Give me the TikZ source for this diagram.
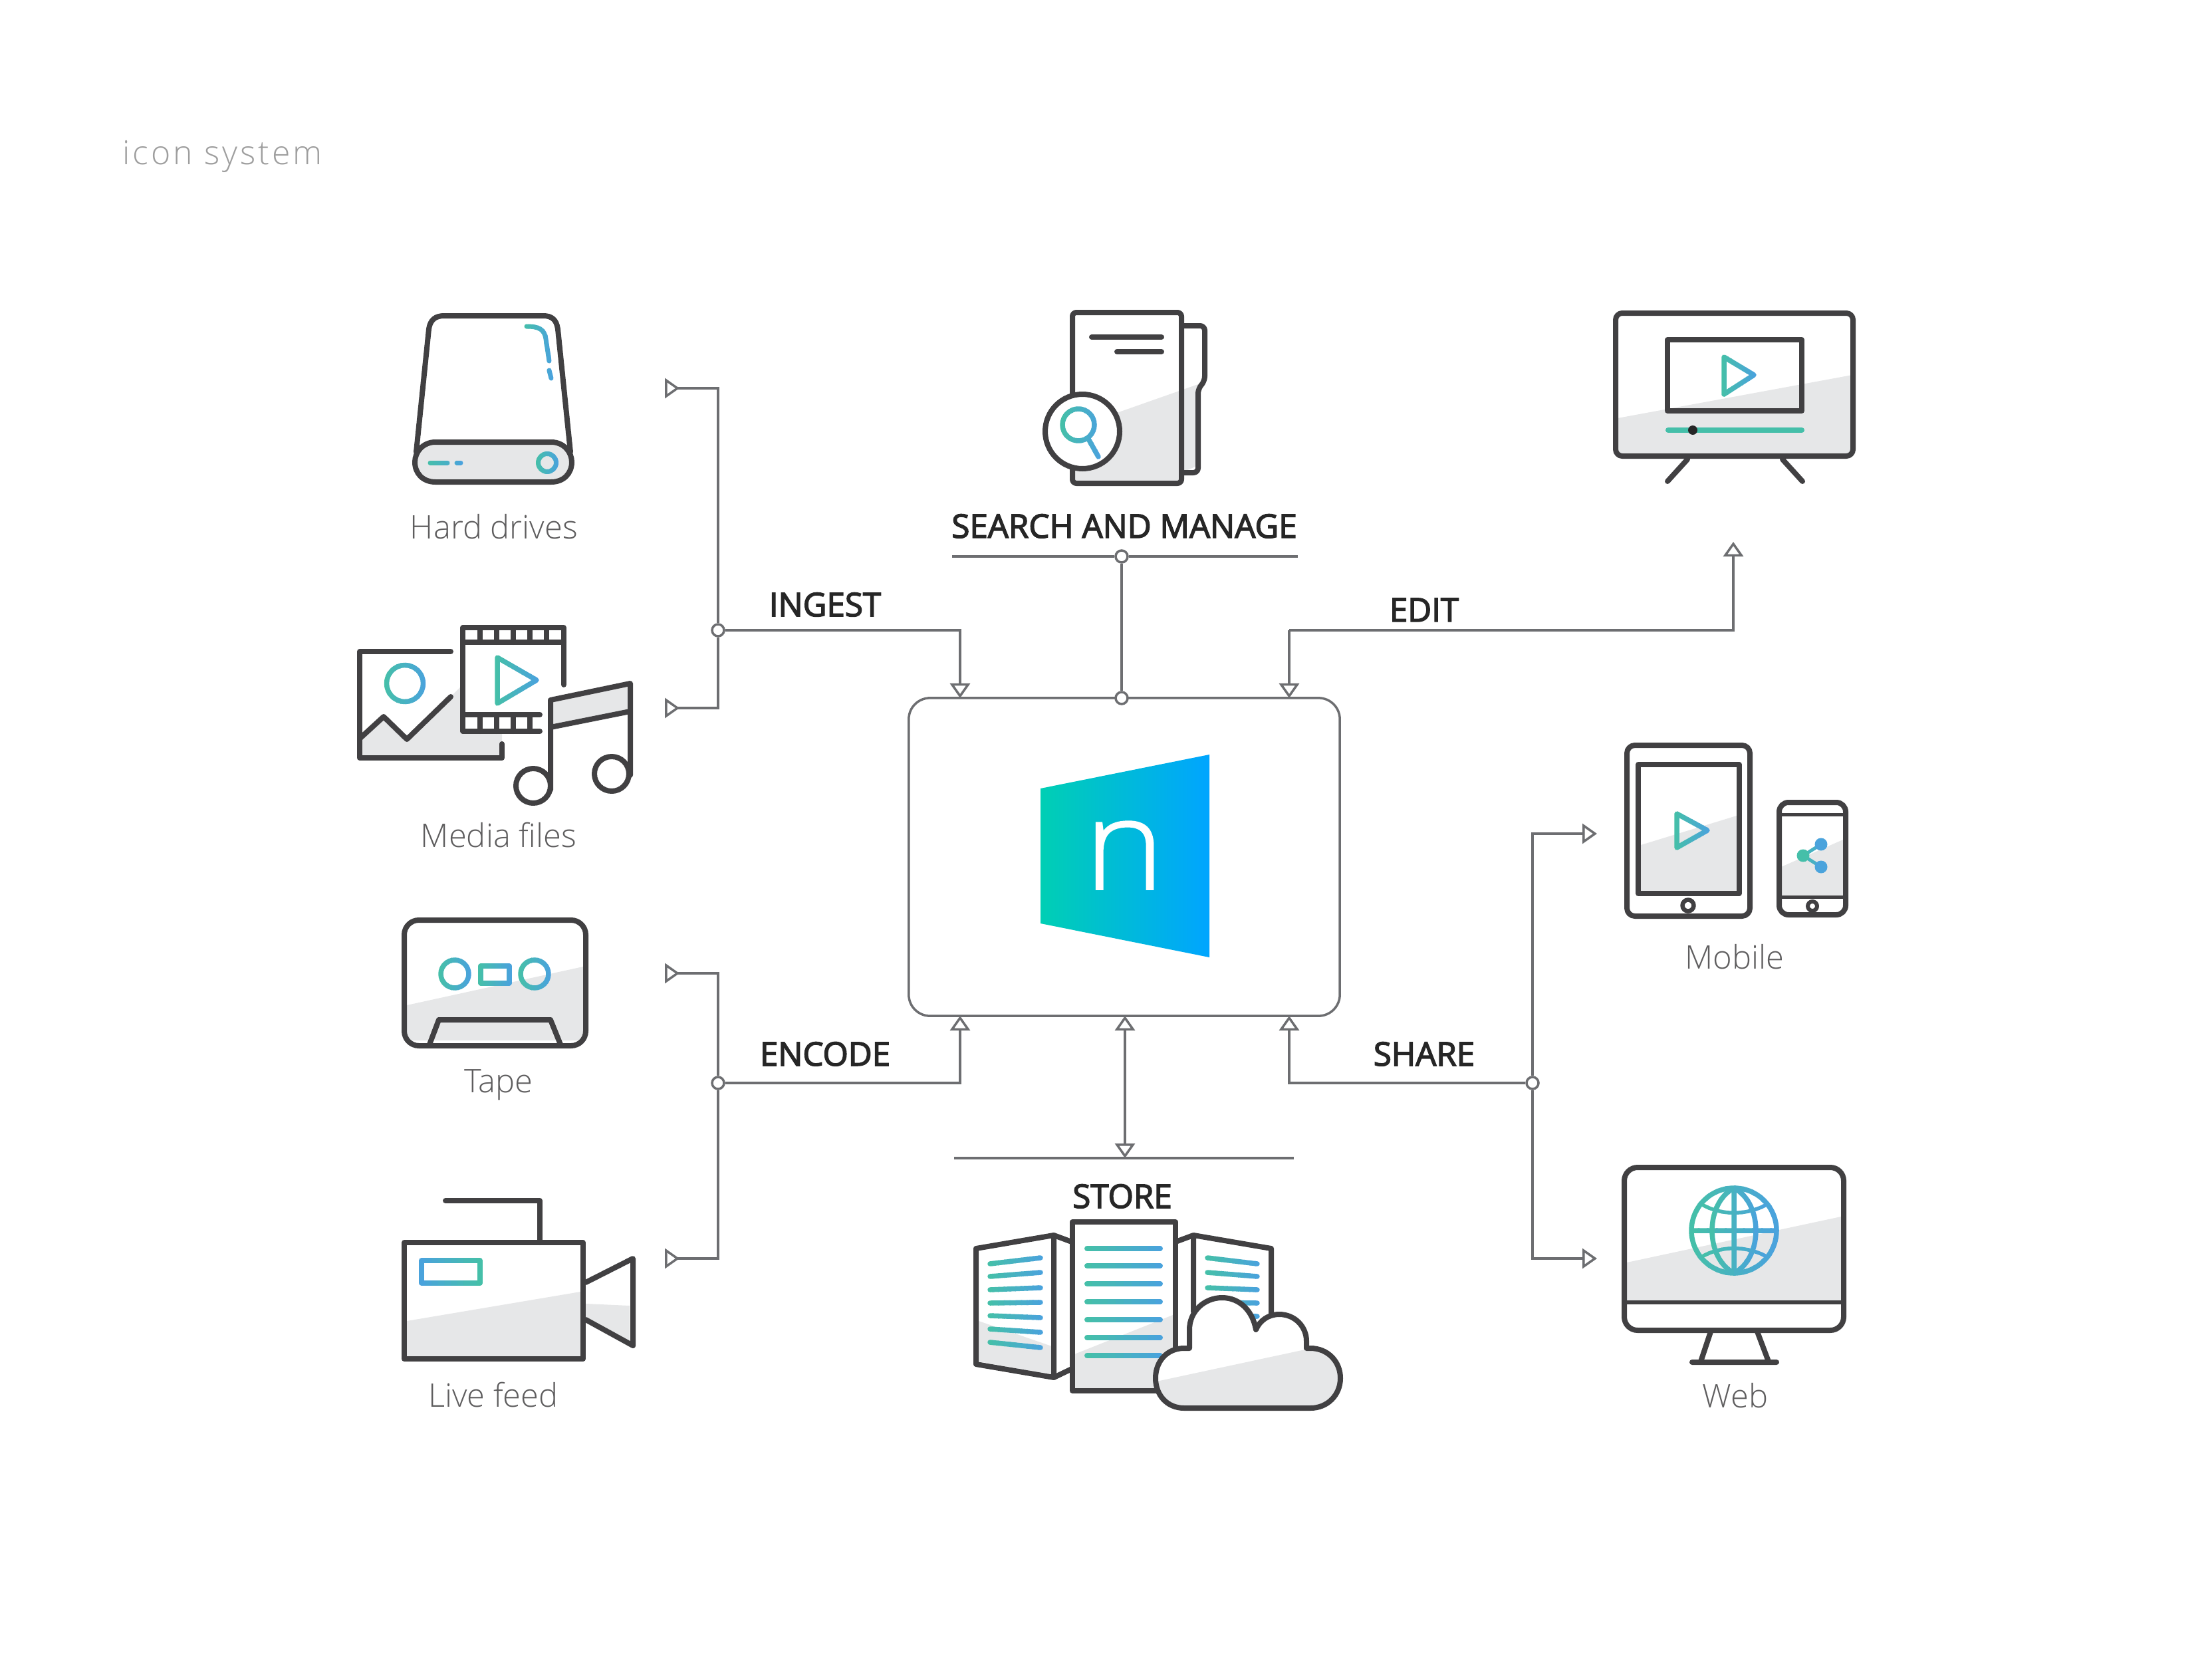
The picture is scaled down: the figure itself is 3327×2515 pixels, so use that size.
\documentclass[tikz,border=0pt]{standalone}
\usepackage{fontspec}
\setmainfont{Open Sans}
\newfontfamily\lightface{Open Sans Light}
\newfontfamily\heavyface[FakeBold=3]{Open Sans}
\newfontfamily\logoface[FakeBold=1,FakeStretch=1.08]{Open Sans Light}
\usepackage{tikz}
\usetikzlibrary{arrows.meta}

\definecolor{iconink}{HTML}{414042}
\definecolor{icongray}{HTML}{E6E7E8}
\definecolor{iconteal}{HTML}{45BFA9}
\definecolor{iconblue}{HTML}{4AA3DC}
\definecolor{wireink}{HTML}{6D6E71}
\definecolor{logoteal}{HTML}{00CFB4}
\definecolor{logoblue}{HTML}{00A5FF}

\newcommand{\gradstroke}[4][7.5]{%
    \foreach \k in {0,...,9}{%
        \pgfmathsetmacro\xa{#2+(#3-#2)*\k/10}%
        \pgfmathsetmacro\xb{#2+(#3-#2)*(\k+1.2)/10}%
        \pgfmathtruncatemacro\mixp{\k*100/9}%
        \begin{scope}
            \clip (\xa,0) rectangle (\xb,2515);
            \draw[line width=#1*0.01cm,line cap=round,line join=round,draw=iconblue!\mixp!iconteal] #4;
        \end{scope}
    }%
}

\begin{document}
\begin{tikzpicture}[x=0.01cm,y=-0.01cm,>={Triangle[fill=white,length=0.22cm,width=0.3cm]},
        iconline/.style={draw=iconink,line width=0.08cm,line join=round,line cap=round},
        flow/.style={draw=wireink,line width=0.035cm},
        intake/.style={flow,-{Triangle[reversed,fill=white,length=0.22cm,width=0.3cm]}},
        junction/.style={circle,draw=wireink,line width=0.035cm,fill=white,inner sep=0pt,minimum size=0.18cm},
        caption/.style={anchor=base,text=iconink!85,font=\lightface\fontsize{13.9}{16}\selectfont},
        stage/.style={anchor=base,text=black!85,font=\heavyface\fontsize{14}{16}\selectfont}]
        \useasboundingbox (0,0) rectangle (3327,2515);

        \node[anchor=base west,text=black!38,font=\lightface\fontsize{14.2}{16}\selectfont\addfontfeature{LetterSpace=8}] (title) at (172,248) {icon system};

        % hard drive
        \draw[iconline] (626,680) -- (645,495) .. controls (647,481) and (655,475) .. (668,475) -- (817,475) .. controls (830,475) and (837,481) .. (839,495) -- (858,680);
        \draw[iconline,fill=icongray] (655,665) -- (829,665) .. controls (848,665) and (860,680) .. (860,695) .. controls (860,712) and (848,725) .. (829,725) -- (655,725) .. controls (636,725) and (624,712) .. (624,695) .. controls (624,680) and (636,665) .. (655,665) -- cycle;
        \gradstroke[7]{786}{832}{(792,491) .. controls (810,491) and (819,495) .. (821,510) -- (826,543) (826,557) -- (829,569)}
        \gradstroke[7]{640}{698}{(647,696) -- (673,696) (687,696) -- (693,696)}
        \gradstroke[7]{805}{841}{(823,696) circle (13.5)}
        \node[caption] (hard) at (743,810) {Hard drives};

        % media files
        \fill[icongray] (541,1115) -- (577,1078) -- (612,1112) -- (693,1033) -- (693,1103) -- (755,1103) -- (755,1140) -- (541,1140) -- cycle;
        \draw[iconline] (678,980) -- (541,980) -- (541,1140) -- (755,1140) -- (755,1119);
        \draw[iconline] (541,1111) -- (577,1078) -- (612,1112) -- (678,1048);
        \gradstroke{575}{643}{(609,1028) circle (27.5)}
        \draw[iconline] (848,1030) -- (848,944) -- (696,944) -- (696,1100) -- (812,1100) (696,966) -- (848,966) (696,1075) -- (812,1075);
        \draw[iconline] (722,944) -- (722,966) (747,944) -- (747,966) (772,944) -- (772,966) (797,944) -- (797,966) (822,944) -- (822,966);
        \draw[iconline] (722,1075) -- (722,1100) (747,1075) -- (747,1100) (772,1075) -- (772,1100) (797,1075) -- (797,1100);
        \gradstroke{743}{812}{(748,989) -- (807,1023) -- (748,1058) -- cycle}
        \fill[icongray] (828,1053) -- (948,1028) -- (948,1070) -- (828,1094) -- cycle;
        \draw[iconline] (828,1188) -- (828,1053) -- (948,1028) -- (948,1166) (828,1094) -- (948,1070);
        \draw[iconline] (802,1182) circle (26);
        \draw[iconline] (920,1164) circle (26);
        \node[caption] (media) at (750,1274) {Media files};

        % tape
        \fill[icongray] (612,1512) -- (877,1454) -- (877,1565) -- (612,1565) -- cycle;
        \draw[iconline,rounded corners=0.22cm] (608,1384) rectangle (881,1573);
        \gradstroke{659}{709}{(684,1465) circle (21)}
        \gradstroke{779}{829}{(804,1465) circle (21)}
        \gradstroke{719}{770}{(723,1453) rectangle (766,1479)}
        \draw[iconline] (646,1571) -- (660,1534) -- (828,1534) -- (843,1571);
        \node[caption] (tape) at (750,1643) {Tape};

        % camera
        \fill[icongray] (612,1987) -- (873,1943) -- (873,2040) -- (612,2040) -- cycle;
        \fill[icongray] (881,1961) -- (947,1964) -- (947,2022) -- (881,1985) -- cycle;
        \draw[iconline] (608,1869) rectangle (877,2044);
        \draw[iconline] (670,1806) -- (812,1806) -- (812,1869);
        \draw[iconline] (881,1929) -- (952,1893) -- (952,2024) -- (881,1985);
        \gradstroke{726}{630}{(634,1896) rectangle (722,1930)}
        \node[caption] (live) at (742,2116) {Live feed};

        % search and manage
        \fill[icongray] (1640,635) -- (1802,578) -- (1802,700) -- (1777,711) -- (1777,727) -- (1613,727) -- (1613,680) -- cycle;
        \draw[iconline,rounded corners=0.07cm] (1777,490) -- (1812,490) -- (1812,573) -- (1802,585) -- (1802,711) -- (1777,711);
        \draw[iconline,rounded corners=0.06cm] (1613,470) rectangle (1777,727);
        \draw[iconline] (1642,507) -- (1747,507) (1680,529) -- (1747,529);
        \draw[iconline,fill=white] (1628,649) circle (56);
        \gradstroke{1594}{1656}{(1622,639) circle (24) (1638,662) -- (1652,687)}
        \node[stage] (search) at (1691,809) {SEARCH AND MANAGE};

        % edit
        \fill[icongray] (2433,629) -- (2786,564) -- (2786,682) -- (2433,682) -- cycle;
        \draw[iconline,rounded corners=0.1cm] (2430,471) rectangle (2787,686);
        \draw[iconline] (2508,511) rectangle (2710,618);
        \gradstroke{2588}{2642}{(2593,537) -- (2638,564) -- (2593,593) -- cycle}
        \draw[iconline,draw=iconteal] (2509,647) -- (2710,647);
        \fill[black!85] (2546,647) circle (7);
        \draw[iconline] (2538,691) -- (2508,724) (2681,691) -- (2711,724);

        % mobile
        \draw[iconline,rounded corners=0.12cm] (2447,1121) rectangle (2632,1378);
        \fill[icongray] (2468,1271) -- (2612,1227) -- (2612,1340) -- (2468,1340) -- cycle;
        \draw[iconline] (2464,1150) rectangle (2616,1344);
        \gradstroke{2517}{2573}{(2522,1224) -- (2568,1249) -- (2522,1275) -- cycle}
        \draw[iconline,line width=0.065cm] (2539,1362) circle (8.5);
        \fill[icongray] (2679,1304) -- (2772,1263) -- (2772,1349) -- (2679,1349) -- cycle;
        \draw[iconline,rounded corners=0.14cm] (2676,1207) rectangle (2776,1376);
        \draw[iconline,line width=0.05cm] (2676,1225) -- (2776,1225) (2676,1349) -- (2776,1349);
        \gradstroke[5]{2703}{2748}{(2739,1270) -- (2712,1287) -- (2739,1304)}
        \fill[iconteal] (2712,1287) circle (9.5);
        \fill[iconblue] (2739,1270) circle (9.5);
        \fill[iconblue] (2739,1304) circle (9.5);
        \draw[iconline,line width=0.06cm] (2726,1363) circle (7);
        \node[caption] (mobile) at (2609,1457) {Mobile};

        % web
        \fill[icongray] (2447,1899) -- (2769,1830) -- (2769,1959) -- (2447,1959) -- cycle;
        \draw[iconline,rounded corners=0.2cm] (2443,1756) rectangle (2773,2001);
        \draw[iconline,line width=0.06cm] (2443,1959) -- (2773,1959);
        \draw[iconline] (2573,2003) -- (2558,2048) (2643,2003) -- (2660,2048) (2545,2049) -- (2672,2049);
        \gradstroke{2540}{2676}{(2608,1851) circle (64) (2544,1851) -- (2672,1851) (2608,1787) -- (2608,1915)}
        \gradstroke{2570}{2646}{(2608,1787) .. controls (2564,1810) and (2564,1892) .. (2608,1915) .. controls (2652,1892) and (2652,1810) .. (2608,1787) -- cycle}
        \gradstroke[5.5]{2558}{2660}{(2562,1813) .. controls (2590,1828) and (2626,1828) .. (2655,1813) (2562,1889) .. controls (2590,1874) and (2626,1874) .. (2655,1889)}
        \node[caption] (web) at (2610,2117) {Web};

        % store
        \fill[icongray] (1472,1987) -- (1582,2025) -- (1582,2068) -- (1472,2048) -- cycle;
        \draw[iconline] (1468,1878) -- (1585,1858) -- (1585,2072) -- (1468,2052) -- cycle;
        \draw[iconline] (1585,1858) -- (1612,1868) (1585,2072) -- (1612,2059);
        \draw[iconline] (1795,1973) -- (1795,1858) -- (1912,1878) -- (1912,1985) (1795,1858) -- (1768,1868);
        \gradstroke{1484}{1570}{(1489,1901) -- (1565,1892) (1489,1920) -- (1565,1914) (1489,1940) -- (1565,1937) (1489,1960) -- (1565,1959) (1489,1979) -- (1565,1982) (1489,1999) -- (1565,2004) (1489,2019) -- (1565,2027)}
        \gradstroke{1811}{1896}{(1816,1892) -- (1891,1901) (1816,1914) -- (1891,1920) (1816,1937) -- (1891,1940) (1816,1959) -- (1891,1960) (1816,1979) -- (1891,1980)}
        \fill[icongray] (1616,2037) -- (1764,1978) -- (1764,2088) -- (1616,2088) -- cycle;
        \draw[iconline] (1613,1838) rectangle (1768,2092);
        \gradstroke[8]{1630}{1750}{(1635,1878) -- (1745,1878) (1635,1904) -- (1745,1904) (1635,1931) -- (1745,1931) (1635,1958) -- (1745,1958) (1635,1985) -- (1745,1985) (1635,2012) -- (1745,2012) (1635,2039) -- (1745,2039)}
        \draw[iconline,fill=white,path picture={\fill[icongray] (1730,2080) -- (1963,2030) -- (2030,2030) -- (2030,2130) -- (1730,2130) -- cycle;}]
            (1781,2118) .. controls (1755,2118) and (1738,2098) .. (1738,2073) .. controls (1738,2048) and (1755,2028) .. (1781,2028) -- (1789,2028) -- (1789,2000) .. controls (1789,1972) and (1812,1952) .. (1838,1952) .. controls (1865,1952) and (1884,1972) .. (1889,2000) .. controls (1895,1986) and (1908,1977) .. (1924,1977) .. controls (1948,1977) and (1965,1996) .. (1965,2017) -- (1965,2028) -- (1971,2028) .. controls (1997,2028) and (2016,2048) .. (2016,2073) .. controls (2016,2098) and (1997,2118) .. (1971,2118) -- cycle;
        \node[stage] (store) at (1688,1817) {STORE};

        % core box
        \node[draw=wireink,line width=0.035cm,fill=white,rounded corners=0.32cm,minimum width=6.48cm,minimum height=4.78cm,inner sep=0pt] (core) at (1691,1289) {};
        \shade[left color=logoteal,right color=logoblue] (1565,1186) -- (1819,1135) -- (1819,1440) -- (1565,1389) -- cycle;
        \node[anchor=base,text=white,font=\logoface\fontsize{54}{54}\selectfont] (logo) at (1691,1338) {n};

        % connectors
        \coordinate (hardend) at (1000,584);
        \coordinate (mediaend) at (1000,1065);
        \coordinate (tapeend) at (1000,1464);
        \coordinate (liveend) at (1000,1893);
        \coordinate (ingesttop) at (1444,1050);
        \coordinate (edittop) at (1939,1050);
        \coordinate (editend) at (2607,815);
        \coordinate (encodebot) at (1444,1528);
        \coordinate (sharebot) at (1939,1528);
        \coordinate (storebot) at (1692,1528);
        \coordinate (storerule) at (1692,1742);
        \coordinate (mobileend) at (2402,1254);
        \coordinate (webend) at (2402,1893);
        \coordinate (searchl) at (1432,837);
        \coordinate (searchr) at (1952,837);
        \coordinate (storel) at (1435,1742);
        \coordinate (storer) at (1946,1742);
        \node[junction] (ingestjn) at (1080,948) {};
        \node[junction] (encodejn) at (1080,1629) {};
        \node[junction] (sharejn) at (2305,1629) {};
        \node[junction] (searchjn) at (1687,837) {};
        \node[junction] (corejn) at (1687,1050) {};

        \draw[flow] (searchl) -- (searchjn) (searchjn) -- (searchr);
        \draw[flow] (storel) -- (storer);
        \draw[flow] (searchjn) -- (corejn);
        \draw[intake] (ingestjn) |- (hardend);
        \draw[intake] (ingestjn) |- (mediaend);
        \draw[intake] (encodejn) |- (tapeend);
        \draw[intake] (encodejn) |- (liveend);
        \draw[flow,->] (ingestjn) -| (ingesttop);
        \draw[flow,->] (encodejn) -| (encodebot);
        \draw[flow,->] (edittop |- ingestjn) -- (edittop);
        \draw[flow,->] (edittop |- ingestjn) -| (editend);
        \draw[flow,->] (sharejn) -| (sharebot);
        \draw[flow,<->] (storebot) -- (storerule);
        \draw[flow,->] (sharejn) |- (mobileend);
        \draw[flow,->] (sharejn) |- (webend);

        \node[stage] (ingest) at (1241,927) {INGEST};
        \node[stage] (edit) at (2142,935) {EDIT};
        \node[stage] (encode) at (1241,1603) {ENCODE};
        \node[stage] (share) at (2142,1603) {SHARE};
    \end{tikzpicture}
\end{document}
